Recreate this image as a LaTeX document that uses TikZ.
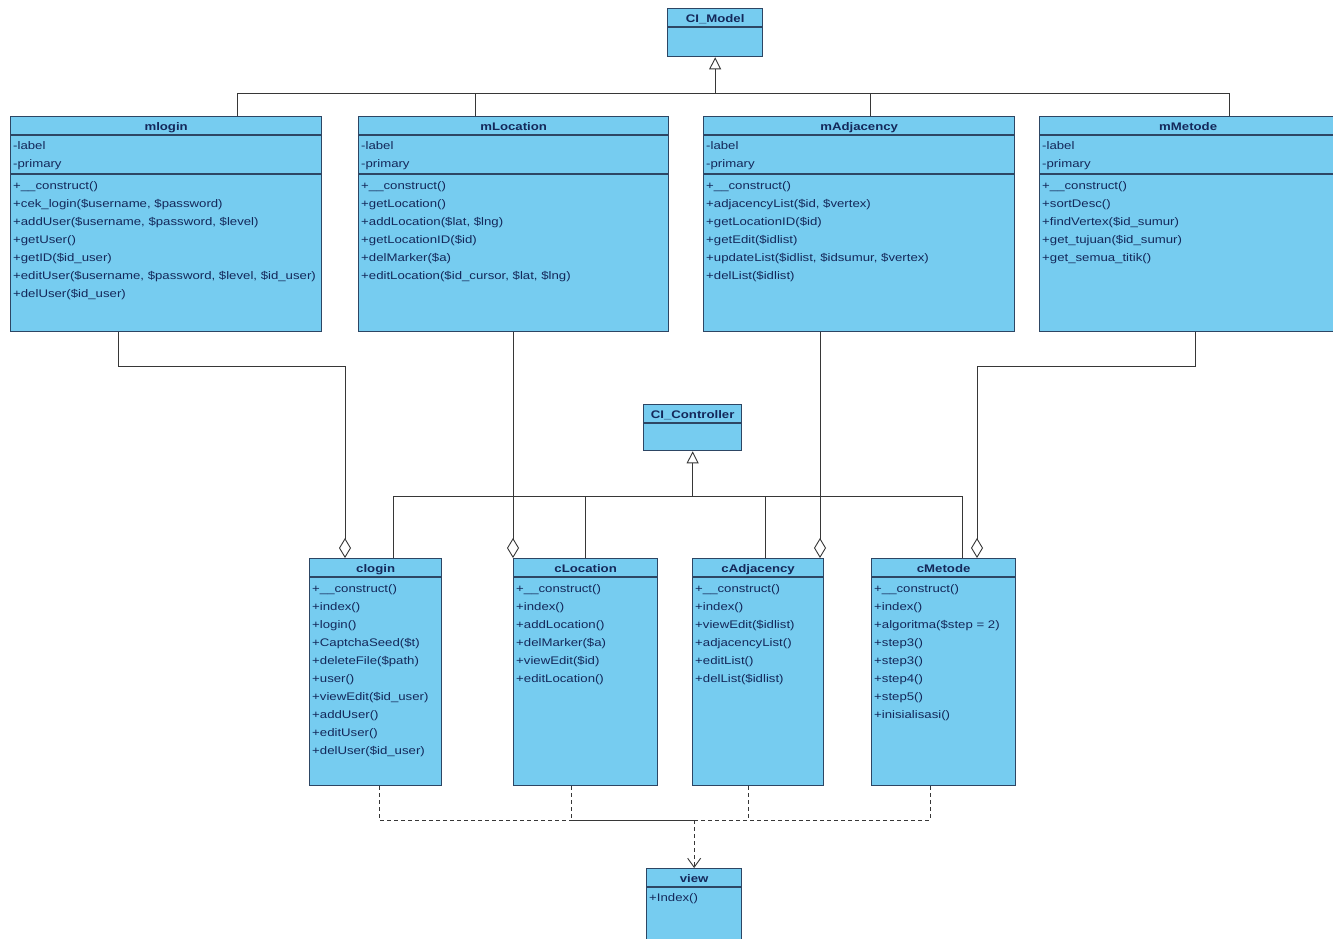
\documentclass[tikz,border=0pt]{standalone}
\usepackage{fontspec}
\newfontfamily\umlfont{Liberation Sans}[FakeStretch=1.2]
\usetikzlibrary{arrows.meta}

\definecolor{boxfill}{RGB}{118,204,240}
\definecolor{boxline}{RGB}{45,70,100}
\definecolor{boxtext}{RGB}{20,40,90}
\definecolor{wire}{RGB}{55,55,55}

\tikzset{
  clsbox/.style={rectangle, draw=boxline, fill=boxfill, line width=1.3pt, inner sep=0pt},
  clsline/.style={draw=boxline, line width=1.3pt},
  clstitle/.style={font=\umlfont\bfseries\fontsize{11}{13}\selectfont, text=boxtext, inner sep=0pt, anchor=base},
  clsitem/.style={font=\umlfont\fontsize{11}{13}\selectfont, text=boxtext, inner sep=0pt, anchor=base west},
  wireline/.style={draw=wire, line width=0.9pt},
  gen/.style={wireline, -{Triangle[length=12pt, width=12pt, fill=white]}},
  agg/.style={wireline, -{Diamond[length=20pt, width=12pt, fill=white]}},
  dep/.style={wireline, dash pattern=on 4pt off 3pt},
  deparrow/.style={dep, -{Straight Barb[length=9pt, width=13pt]}},
}

% class box with its name compartment
\newcommand\umlclass[6]{% name, left, top, width, height, title
  \node[clsbox, minimum width=#4, minimum height=#5, anchor=north west] (#1) at (#2,#3) {};
  \node[clstitle] (#1-title) at ([yshift=-14]#1.north) {#6};
  \draw[clsline] ([yshift=-19]#1.north west) -- ([yshift=-19]#1.north east);
}
% separator below the attribute compartment
\newcommand\umlsep[2]{%
  \draw[clsline] ([yshift=-#2]#1.north west) -- ([yshift=-#2]#1.north east);
}
% one member per line, 18pt apart
\newcommand\umlitems[4]{% class, prefix, first baseline below top, lines
  \foreach \txt [count=\idx] in {#4}
    \node[clsitem] (#1-#2\idx) at ([xshift=3, yshift={-(#3+(\idx-1)*18)}]#1.north west) {\txt};
}

\begin{document}
\begin{tikzpicture}[x=1pt, y=-1pt]
\useasboundingbox (0,0) rectangle (1333,938);
\fill[white] (0,0) rectangle (1333,938);

% ---------- base classes ----------
\umlclass{CIModel}{667}{8}{95}{48}{CI\_Model}
\umlclass{CIController}{643}{404}{98}{46}{CI\_Controller}

% ---------- models ----------
\umlclass{mlogin}{10}{116}{311}{215}{mlogin}
\umlsep{mlogin}{58}
\umlitems{mlogin}{a}{33}{-label,-primary}
\umlitems{mlogin}{m}{73}{+\_\_construct(),{+cek\_login(\$username, \$password)},{+addUser(\$username, \$password, \$level)},+getUser(),+getID(\$id\_user),{+editUser(\$username, \$password, \$level, \$id\_user)},+delUser(\$id\_user)}

\umlclass{mLocation}{358}{116}{310}{215}{mLocation}
\umlsep{mLocation}{58}
\umlitems{mLocation}{a}{33}{-label,-primary}
\umlitems{mLocation}{m}{73}{+\_\_construct(),+getLocation(),{+addLocation(\$lat, \$lng)},+getLocationID(\$id),+delMarker(\$a),{+editLocation(\$id\_cursor, \$lat, \$lng)}}

\umlclass{mAdjacency}{703}{116}{311}{215}{mAdjacency}
\umlsep{mAdjacency}{58}
\umlitems{mAdjacency}{a}{33}{-label,-primary}
\umlitems{mAdjacency}{m}{73}{+\_\_construct(),{+adjacencyList(\$id, \$vertex)},+getLocationID(\$id),+getEdit(\$idlist),{+updateList(\$idlist, \$idsumur, \$vertex)},+delList(\$idlist)}

\umlclass{mMetode}{1039}{116}{297}{215}{mMetode}
\umlsep{mMetode}{58}
\umlitems{mMetode}{a}{33}{-label,-primary}
\umlitems{mMetode}{m}{73}{+\_\_construct(),+sortDesc(),+findVertex(\$id\_sumur),+get\_tujuan(\$id\_sumur),+get\_semua\_titik()}

% ---------- controllers ----------
\umlclass{clogin}{309}{558}{132}{227}{clogin}
\umlitems{clogin}{m}{34}{+\_\_construct(),+index(),+login(),+CaptchaSeed(\$t),+deleteFile(\$path),+user(),+viewEdit(\$id\_user),+addUser(),+editUser(),+delUser(\$id\_user)}

\umlclass{cLocation}{513}{558}{144}{227}{cLocation}
\umlitems{cLocation}{m}{34}{+\_\_construct(),+index(),+addLocation(),+delMarker(\$a),+viewEdit(\$id),+editLocation()}

\umlclass{cAdjacency}{692}{558}{131}{227}{cAdjacency}
\umlitems{cAdjacency}{m}{34}{+\_\_construct(),+index(),+viewEdit(\$idlist),+adjacencyList(),+editList(),+delList(\$idlist)}

\umlclass{cMetode}{871}{558}{144}{227}{cMetode}
\umlitems{cMetode}{m}{34}{+\_\_construct(),+index(),+algoritma(\$step = 2),+step3(),+step3(),+step4(),+step5(),+inisialisasi()}

% ---------- view ----------
\umlclass{view}{646}{868}{95}{75}{view}
\umlitems{view}{m}{33}{+Index()}

% ---------- junctions ----------
\coordinate (gm) at ([yshift=-36]CIModel.south);
\coordinate (gc) at ([yshift=-45]CIController.south);
\coordinate (vj) at ([yshift=48]view.north);

% generalisation: models -> CI_Model
\draw[gen] (gm) -- (CIModel.south);
\draw[wireline] ([xshift=227]mlogin.north west) |- (gm);
\draw[wireline] ([xshift=117]mLocation.north west) |- (gm);
\draw[wireline] ([xshift=167]mAdjacency.north west) |- (gm);
\draw[wireline] ([xshift=190]mMetode.north west) |- (gm);

% generalisation: controllers -> CI_Controller
\draw[gen] (gc) -- (CIController.south);
\draw[wireline] ([xshift=84]clogin.north west) |- (gc);
\draw[wireline] ([xshift=72]cLocation.north west) |- (gc);
\draw[wireline] ([xshift=73]cAdjacency.north west) |- (gc);
\draw[wireline] ([xshift=91]cMetode.north west) |- (gc);

% aggregation: controllers hold models
\draw[agg] ([xshift=108]mlogin.south west) -- ++(0,34) -| ([xshift=36]clogin.north west);
\draw[agg] ([xshift=155]mLocation.south west) -- (cLocation.north west);
\draw[agg] ([xshift=117]mAdjacency.south west) -- ([xshift=128]cAdjacency.north west);
\draw[agg] ([xshift=156]mMetode.south west) -- ++(0,34) -| ([xshift=106]cMetode.north west);

% dependency: controllers -> view
\draw[dep] ([xshift=70]clogin.south west) |- (vj);
\draw[dep] ([xshift=58]cLocation.south west) |- (vj);
\draw[dep] ([xshift=56]cAdjacency.south west) |- (vj);
\draw[dep] ([xshift=59]cMetode.south west) |- (vj);
\draw[deparrow] (vj) -- (view.north);
\end{tikzpicture}
\end{document}
